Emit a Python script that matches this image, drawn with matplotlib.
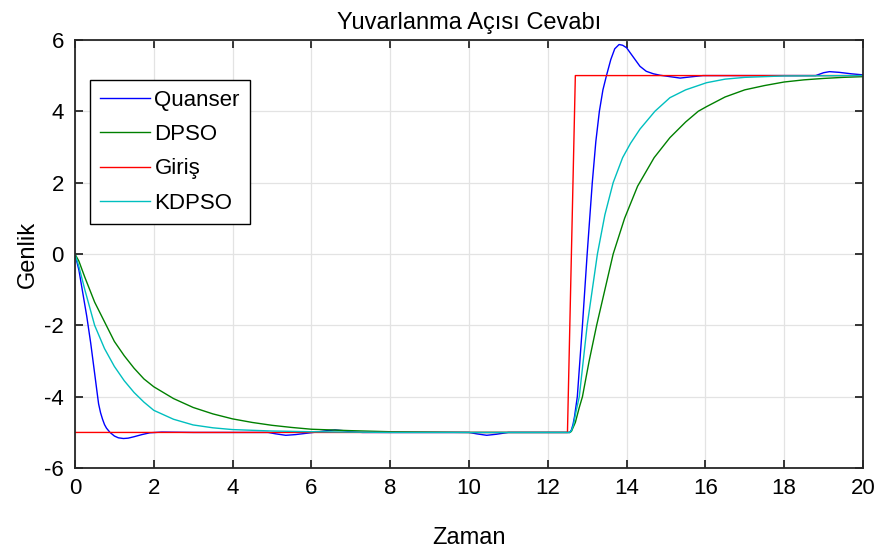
import matplotlib
matplotlib.use('Agg')
import matplotlib.pyplot as plt

plt.rcParams['font.family'] = ['Liberation Sans', 'DejaVu Sans']
plt.rcParams['axes.unicode_minus'] = False

# Quanser response
quanser_t = [0, 0.1, 0.2, 0.3, 0.4, 0.5, 0.57, 0.6, 0.65, 0.7, 0.75, 0.8, 0.89, 1.0, 1.1, 1.23, 1.35,
             1.5, 1.7, 1.9, 2.2, 3.0, 4.0, 4.9, 5.1, 5.35, 5.6, 5.9, 6.2, 6.4, 6.6, 6.8, 7.0, 7.3, 8.0,
             9.0, 10.0, 10.2, 10.45, 10.7, 11.0, 12.0, 12.56, 12.6, 12.64, 12.68, 12.75, 12.88, 13.0,
             13.13, 13.22, 13.31, 13.4, 13.49, 13.6, 13.7, 13.81, 13.9, 14.0, 14.15, 14.34, 14.5, 14.68,
             14.85, 15.1, 15.36, 15.6, 15.94, 17.0, 18.8, 19.0, 19.15, 19.4, 19.7, 20.0]
quanser_y = [0, -0.45, -1.1, -1.75, -2.5, -3.35, -3.95, -4.2, -4.45, -4.63, -4.78, -4.88, -5.0, -5.1,
             -5.15, -5.17, -5.16, -5.12, -5.06, -5.01, -4.99, -5.0, -5.0, -5.0, -5.04, -5.08, -5.06,
             -5.02, -4.98, -4.95, -4.93, -4.95, -4.98, -5.0, -5.0, -5.0, -5.0, -5.04, -5.08, -5.05,
             -5.0, -5.0, -5.0, -4.93, -4.78, -4.55, -4.0, -2.0, 0.0, 2.0, 3.15, 4.0, 4.6, 5.0, 5.45,
             5.75, 5.87, 5.85, 5.78, 5.55, 5.26, 5.12, 5.05, 5.01, 4.97, 4.93, 4.96, 5.0, 5.0, 5.0,
             5.08, 5.11, 5.09, 5.05, 5.02]

# DPSO response
dpso_t = [0, 0.1, 0.25, 0.5, 0.75, 1.0, 1.25, 1.5, 1.75, 2.0, 2.5, 3.0, 3.5, 4.0, 4.5, 5.0, 5.5, 6.0,
          7.0, 8.0, 9.0, 10.0, 12.56, 12.6, 12.7, 12.8, 12.88, 13.05, 13.24, 13.45, 13.66, 13.95,
          14.28, 14.7, 15.1, 15.5, 15.82, 16.03, 16.5, 17.0, 17.5, 18.0, 18.5, 19.0, 19.5, 20.0]
dpso_y = [0, -0.2, -0.65, -1.35, -1.9, -2.45, -2.85, -3.2, -3.5, -3.72, -4.05, -4.3, -4.48, -4.62,
          -4.72, -4.8, -4.86, -4.91, -4.95, -4.98, -4.99, -5.0, -5.0, -4.97, -4.72, -4.3, -4.0,
          -3.0, -2.0, -1.0, 0.0, 1.0, 1.9, 2.7, 3.26, 3.7, 4.0, 4.13, 4.4, 4.6, 4.72, 4.82, 4.88,
          4.92, 4.95, 4.97]

# Input signal
giris_t = [0, 12.5, 12.7, 20]
giris_y = [-5, -5, 5, 5]

# KDPSO response
kdpso_t = [0, 0.1, 0.25, 0.5, 0.75, 1.0, 1.25, 1.5, 1.75, 2.0, 2.5, 3.0, 3.5, 4.0, 5.0, 6.0, 8.0,
           12.56, 12.6, 12.65, 12.72, 12.8, 12.9, 13.0, 13.13, 13.26, 13.45, 13.66, 13.9, 14.1,
           14.34, 14.72, 15.1, 15.5, 16.03, 16.5, 17.0, 18.0, 20.0]
kdpso_y = [0, -0.35, -1.0, -2.0, -2.65, -3.15, -3.55, -3.88, -4.15, -4.38, -4.63, -4.79, -4.87,
           -4.92, -4.96, -4.98, -5.0, -5.0, -4.95, -4.8, -4.4, -4.0, -3.0, -2.0, -1.0, 0.0, 1.1,
           2.0, 2.7, 3.1, 3.5, 4.0, 4.38, 4.6, 4.8, 4.9, 4.95, 4.99, 5.0]

fig = plt.figure(figsize=(8.84, 5.54), dpi=100)
ax = fig.add_axes([0.0848, 0.155, 0.8914, 0.773])

ax.plot(quanser_t, quanser_y, color='#0000FF', lw=1.0, label='Quanser')
ax.plot(dpso_t, dpso_y, color='#008000', lw=1.0, label='DPSO')
ax.plot(giris_t, giris_y, color='#FF0000', lw=1.0, label='Giriş')
ax.plot(kdpso_t, kdpso_y, color='#00BFBF', lw=1.0, label='KDPSO')

ax.set_xlim(0, 20)
ax.set_ylim(-6, 6)
ax.set_xticks(range(0, 21, 2))
ax.set_yticks(range(-6, 7, 2))
ax.grid(True, color='#E3E3E3', lw=0.9)
ax.set_axisbelow(True)
for s in ax.spines.values():
    s.set_color('#262626')
    s.set_linewidth(1.3)
ax.tick_params(direction='in', length=6, width=1.3, color='#262626', labelsize=16,
               top=True, right=True)
ax.tick_params(axis='x', pad=7)
ax.tick_params(axis='y', pad=8)

ax.set_title('Yuvarlanma Açısı Cevabı', fontsize=17, pad=8)
ax.set_xlabel('Zaman', fontsize=17, labelpad=20)
ax.set_ylabel('Genlik', fontsize=17, labelpad=3.5)

leg = ax.legend(loc='upper left', bbox_to_anchor=(0.019, 0.907), fontsize=16, fancybox=False,
                edgecolor='black', framealpha=1, handlelength=2.25, handletextpad=0.2,
                labelspacing=0.6, borderpad=0.45, borderaxespad=0)
leg.get_frame().set_linewidth(1.0)

plt.savefig('out.png', dpi=100)
plt.close()
